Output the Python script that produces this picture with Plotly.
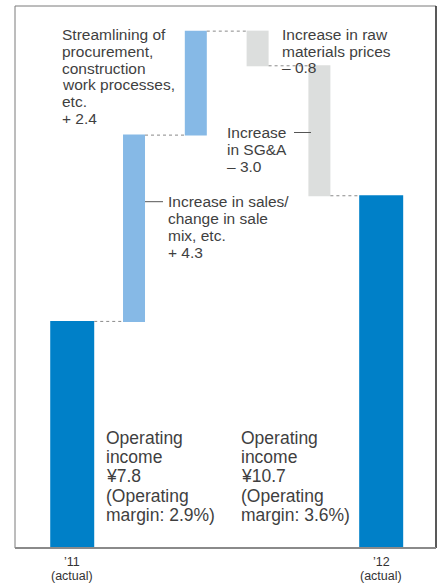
import plotly.graph_objects as go

# ---------------- data ----------------
categories = ["FY11", "Sales/mix", "Procurement", "Raw materials", "SG&A", "FY12"]
tick_labels = {"FY11": ["’11", "(actual)"], "FY12": ["’12", "(actual)"]}
measures = ["absolute", "relative", "relative", "relative", "relative", "total"]
values = [7.8, 4.3, 2.4, -0.8, -3.0, 10.7]
margins_pct = [2.9, 3.6]

# ---------------- styles ----------------
BLUE = "#0080C8"
LIGHT_BLUE = "#86B9E6"
GRAY = "#DCDEDD"
TEXT = "#3f3f3f"
FONT = "Liberation Sans, Arial, sans-serif"

W, H = 441, 583
PL, PR, PT, PB = 15, 436, 6, 548   # plot area in pixels


def xp(px):
    return (px - PL) / (PR - PL)


def yp(py):
    return (PB - py) / (PB - PT)


def sgn(v):
    return ("+ " if v > 0 else "– ") + f"{abs(v):.1f}"


fig = go.Figure(go.Waterfall(
    x=categories,
    y=values,
    measure=measures,
    width=[0.712, 0.356, 0.356, 0.356, 0.356, 0.712],
    increasing=dict(marker=dict(color=LIGHT_BLUE)),
    decreasing=dict(marker=dict(color=GRAY)),
    totals=dict(marker=dict(color=BLUE)),
    connector=dict(mode="between", line=dict(color="#8a8a8a", width=1, dash="dot")),
    textinfo="none",
    hoverinfo="skip",
))

# ---------------- text blocks ----------------
blocks = [
    (["Streamlining of", "procurement,", "construction", "work processes,", "etc.", sgn(values[2])],
     62, 40, 16.7, 15.5),
    (["Increase in raw", "materials prices", sgn(values[3])], 282, 40, 16.5, 15.5),
    (["Increase", "in SG&A", sgn(values[4])], 227, 138.3, 16.7, 15.5),
    (["Increase in sales/", "change in sale", "mix, etc.", sgn(values[1])], 168, 207.3, 16.7, 15.5),
    (["Operating", "income", f"¥{values[0]}", "(Operating", f"margin: {margins_pct[0]}%)"],
     106, 444, 19.2, 17.5),
    (["Operating", "income", f"¥{values[5]}", "(Operating", f"margin: {margins_pct[1]}%)"],
     241, 444, 19.2, 17.5),
]

annotations = []
for lines, left, base0, sp, size in blocks:
    for k, line in enumerate(lines):
        baseline = base0 + k * sp
        center = baseline - 0.346 * size
        annotations.append(dict(
            text=line, x=xp(left), y=yp(center), xref="paper", yref="paper",
            xanchor="left", yanchor="middle", showarrow=False,
            borderpad=0, borderwidth=0,
            font=dict(family=FONT, size=size, color=TEXT),
        ))

# category labels under the axis (two lines each, tight spacing)
TICK_SIZE = 12.5
for cat, lines in tick_labels.items():
    for k, line in enumerate(lines):
        baseline = 566 + k * 14
        center = baseline - 0.346 * TICK_SIZE
        annotations.append(dict(
            text=line, x=cat, y=yp(center), xref="x", yref="paper",
            xanchor="center", yanchor="middle", showarrow=False,
            borderpad=0, borderwidth=0,
            font=dict(family="Liberation Sans Narrow, Liberation Sans, Arial, sans-serif",
                      size=TICK_SIZE, color="#333333"),
        ))

shapes = [
    # frame
    dict(type="line", xref="paper", yref="paper", x0=0, x1=0, y0=0, y1=1,
         line=dict(color="#7a7a7a", width=1)),
    dict(type="line", xref="paper", yref="paper", x0=0, x1=1, y0=1, y1=1,
         line=dict(color="#7a7a7a", width=1)),
    dict(type="line", xref="paper", yref="paper", x0=1, x1=1, y0=0, y1=1,
         line=dict(color="#222222", width=1.5)),
    dict(type="line", xref="paper", yref="paper", x0=0, x1=1, y0=0, y1=0,
         line=dict(color="#8a8a8a", width=2)),
    # leader lines
    dict(type="line", xref="paper", yref="paper", x0=xp(294), x1=xp(311),
         y0=yp(132.5), y1=yp(132.5), line=dict(color="#555555", width=1)),
    dict(type="line", xref="paper", yref="paper", x0=xp(145), x1=xp(163),
         y0=yp(201.7), y1=yp(201.7), line=dict(color="#555555", width=1)),
]

fig.update_layout(
    width=W, height=H, autosize=False,
    margin=dict(l=PL, r=W - PR, t=PT, b=H - PB),
    paper_bgcolor="white", plot_bgcolor="white",
    showlegend=False,
    annotations=annotations,
    shapes=shapes,
    xaxis=dict(
        type="category", range=[-0.926, 5.887],
        showticklabels=False,
        showgrid=False, showline=False, zeroline=False, ticks="",
        fixedrange=True,
    ),
    yaxis=dict(range=[2.57, 15.08], visible=False, fixedrange=True),
)

fig.write_html("out.html", config={"displayModeBar": False})
